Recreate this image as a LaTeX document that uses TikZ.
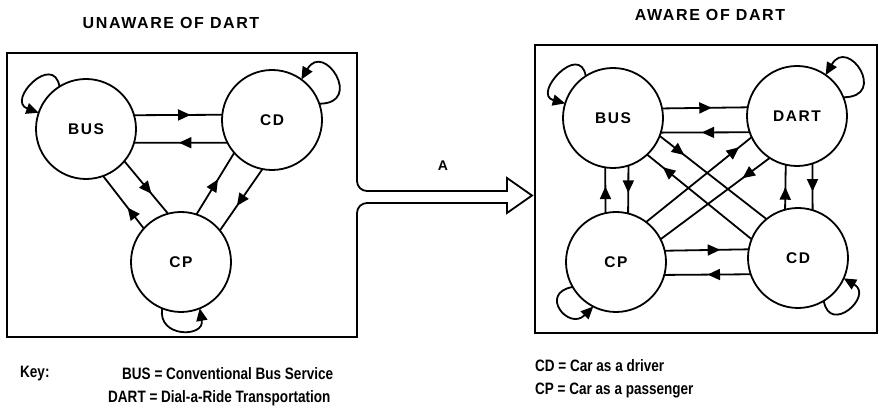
\documentclass[tikz,border=0pt]{standalone}
\usepackage{fontspec}
\setmainfont{Liberation Sans}
\newfontfamily\lblfont{Liberation Sans}[LetterSpace=10]
\newfontfamily\keyfont{Liberation Sans}[FakeStretch=0.82]
\usetikzlibrary{arrows.meta,decorations.markings}
\tikzset{
  tri/.tip={Triangle[length=12.5pt,width=11pt]},
  ln/.style={line width=1.8pt},
  st/.style={circle, draw, line width=1.8pt, minimum size=100pt, inner sep=0pt, outer sep=0pt,
    font=\lblfont\bfseries\fontsize{15.5}{18}\selectfont},
  arr/.style={ln, postaction={decorate}, decoration={markings, mark=at position #1 with {\arrow{tri}}}},
  loopar/.style={ln, -tri},
  title/.style={font=\lblfont\bfseries\fontsize{16}{19}\selectfont, inner sep=0pt},
  keytxt/.style={font=\keyfont\bfseries\fontsize{16.5}{19}\selectfont, anchor=west, inner sep=0pt}
}
\begin{document}
\begin{tikzpicture}[x=1pt,y=1pt]
\useasboundingbox (0,0) rectangle (879,411);
% titles
\node[title] (t1) at (171,388) {UNAWARE OF DART};
\node[title] (t2) at (710,396) {AWARE OF DART};
% left box with transition arrow
\draw[ln, line join=miter] (357,198) arc[start angle=180,end angle=90,radius=10pt] -- (507,208) -- (507,198) -- (532,215.5) -- (507,233) -- (507,220) -- (367,220) arc[start angle=270,end angle=180,radius=10pt] -- (357,358) -- (7,358) -- (7,74) -- (357,74) -- cycle;
\node[font=\lblfont\bfseries\fontsize{14}{16}\selectfont, inner sep=0pt] (lA) at (443,245) {A};
% right box
\draw[ln] (535,78) rectangle (877,366);
% left diagram
\node[st] (bus) at (86,282) {BUS};
\node[st] (cd) at (272,291) {CD};
\node[st] (cp) at (181,149) {CP};
\draw[arr=0.64] (bus.16.3) -- (cd.174.3);
\draw[arr=0.52] (cd.207.4) -- (bus.-16.3);
\draw[arr=0.62] (bus.-40.2) -- (cp.105.9);
\draw[arr=0.4] (cp.138.1) -- (bus.-70.8);
\draw[arr=0.57] (cp.72) -- (cd.221.9);
\draw[arr=0.6] (cd.259.1) -- (cp.39);
\draw[loopar] (bus.122) to[out=100,in=160,distance=35pt] (bus.161);
\draw[loopar] (cd.19) to[out=0,in=60,distance=45pt] (cd.54);
\draw[loopar] (cp.248) to[out=-100,in=-80,distance=30pt] (cp.292);
% right diagram
\node[st] (bus2) at (613,293) {BUS};
\node[st] (dart) at (797,295) {DART};
\node[st] (cp2) at (616,149) {CP};
\node[st] (cd2) at (798,153) {CD};
\draw[arr=0.58] (bus2.11.5) -- (dart.170.8);
\draw[arr=0.54] (dart.199.9) -- (bus2.-17.5);
\draw[arr=0.57] (bus2.-72.5) -- (cp2.76.1);
\draw[arr=0.58] (cp2.102.7) -- (bus2.-99.2);
\draw[arr=0.6] (dart.-72.5) -- (cd2.73.7);
\draw[arr=0.5] (cd2.105.1) -- (dart.-103.9);
\draw[arr=0.66] (cp2.13.9) -- (cd2.170.8);
\draw[arr=0.5] (cd2.199.9) -- (cp2.-15.1);
\draw[arr=0.23] (bus2.-21.8) -- (cd2.129.2);
\draw[arr=0.85] (cd2.158.6) -- (bus2.-47.2);
\draw[arr=0.88] (cp2.53.6) -- (dart.205.1);
\draw[arr=0.25] (dart.237.3) -- (cp2.27);
\draw[loopar] (bus2.123) to[out=100,in=165,distance=35pt] (bus2.163);
\draw[loopar] (dart.22) to[out=0,in=60,distance=45pt] (dart.55);
\draw[loopar] (cp2.210) to[out=190,in=225,distance=35pt] (cp2.243);
\draw[loopar] (cd2.-59) to[out=-80,in=-30,distance=35pt] (cd2.-24);
% key
\node[keytxt] (k0) at (20,37) {Key:};
\node[keytxt] (k1) at (122,37) {BUS = Conventional Bus Service};
\node[keytxt] (k2) at (108,13) {DART = Dial-a-Ride Transportation};
\node[keytxt] (k3) at (535,45) {CD = Car as a driver};
\node[keytxt] (k4) at (535,21) {CP = Car as a passenger};
\end{tikzpicture}
\end{document}
